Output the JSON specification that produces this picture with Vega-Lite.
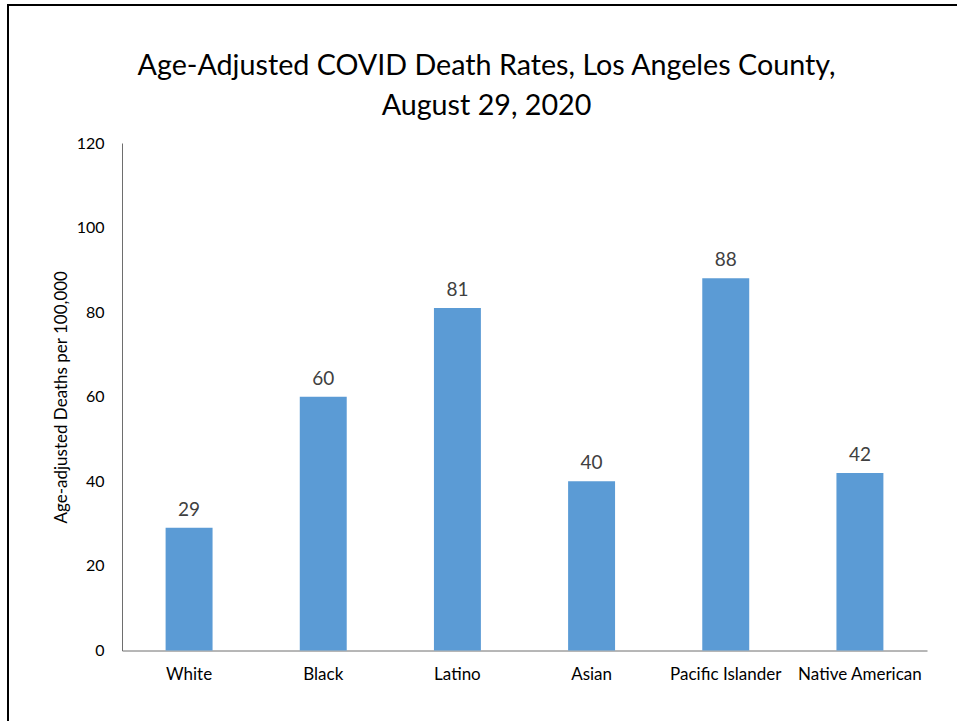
{
  "$schema": "https://vega.github.io/schema/vega-lite/v6.json",
  "autosize": {"type": "none"},
  "width": 949,
  "height": 716,
  "padding": {"left": 8, "top": 5, "right": 0, "bottom": 0},
  "background": "white",
  "view": {"stroke": "black", "strokeWidth": 2, "strokeDash": [949, 1665, 716], "fill": "white"},
  "config": {
    "font": "Lato",
    "axis": {"grid": false, "ticks": false, "tickSize": 0, "domainWidth": 1}
  },
  "title": {
    "text": ["Age-Adjusted COVID Death Rates, Los Angeles County,", "August 29, 2020"],
    "anchor": "middle",
    "frame": "group",
    "orient": "top",
    "baseline": "top",
    "offset": 0,
    "dx": 4,
    "dy": 116,
    "fontSize": 28.7,
    "fontWeight": "normal",
    "lineHeight": 40,
    "color": "black"
  },
  "data": {
    "values": [
      {"group": "White", "rate": 29},
      {"group": "Black", "rate": 60},
      {"group": "Latino", "rate": 81},
      {"group": "Asian", "rate": 40},
      {"group": "Pacific Islander", "rate": 88},
      {"group": "Native American", "rate": 42}
    ]
  },
  "encoding": {
    "x": {
      "field": "group",
      "type": "nominal",
      "sort": null,
      "scale": {"range": [114, 919], "paddingInner": 0.65, "paddingOuter": 0.325},
      "axis": {
        "title": null,
        "orient": "bottom",
        "offset": -70.5,
        "labelAngle": 0,
        "labelFontSize": 17,
        "labelColor": "black",
        "labelPadding": 16,
        "domainColor": "#6e6e6e"
      }
    },
    "y": {
      "field": "rate",
      "type": "quantitative",
      "scale": {"domain": [0, 120], "range": [645.5, 138], "nice": false},
      "axis": {
        "title": "Age-adjusted Deaths per 100,000",
        "orient": "left",
        "offset": -114,
        "values": [0, 20, 40, 60, 80, 100, 120],
        "labelFontSize": 16,
        "labelColor": "black",
        "labelPadding": 18,
        "titleFontSize": 17,
        "titleFontWeight": "normal",
        "titleColor": "black",
        "titlePadding": 6,
        "domainColor": "#6e6e6e"
      }
    }
  },
  "layer": [
    {"mark": {"type": "bar", "color": "#5B9BD5"}},
    {
      "mark": {"type": "text", "baseline": "alphabetic", "dy": -12, "fontSize": 19, "color": "#404040"},
      "encoding": {"text": {"field": "rate", "type": "quantitative"}}
    }
  ]
}
